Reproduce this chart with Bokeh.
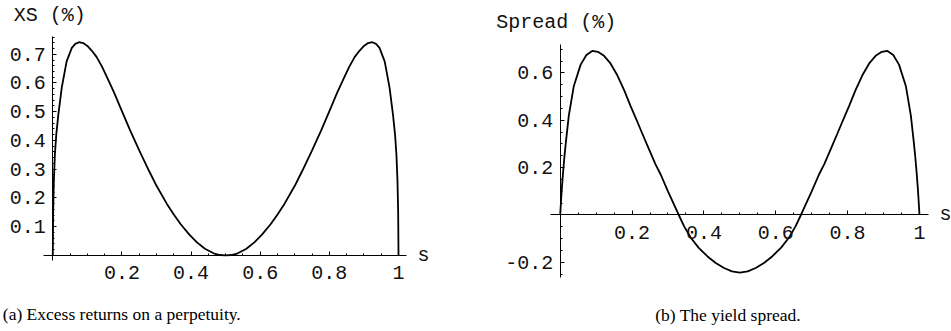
from bokeh.plotting import figure
from bokeh.layouts import row
from bokeh.models import Range1d, FixedTicker, Label
from bokeh.embed import file_html
from bokeh.resources import INLINE

# (a) Excess returns on a perpetuity: XS (%) against s
s_xs = [0.0, 0.001, 0.003, 0.006, 0.01, 0.016, 0.026, 0.04, 0.055, 0.065,
        0.076, 0.088, 0.10, 0.113, 0.127, 0.143, 0.16, 0.178, 0.195, 0.224,
        0.25, 0.28, 0.30, 0.33, 0.35, 0.37, 0.395, 0.417, 0.44, 0.465,
        0.483, 0.5, 0.517, 0.535, 0.56, 0.583, 0.605, 0.63, 0.65, 0.67,
        0.70, 0.72, 0.75, 0.776, 0.805, 0.822, 0.84, 0.857, 0.873, 0.887,
        0.90, 0.912, 0.924, 0.935, 0.945, 0.96, 0.974, 0.984, 0.99, 0.994,
        0.997, 0.999, 1.0]
xs_pct = [0.0, 0.15, 0.26, 0.35, 0.42, 0.49, 0.585, 0.675, 0.722, 0.736,
          0.742, 0.739, 0.729, 0.712, 0.69, 0.655, 0.612, 0.565, 0.516, 0.434,
          0.365, 0.29, 0.242, 0.179, 0.142, 0.108, 0.072, 0.045, 0.023, 0.007,
          0.001, 0.0, 0.001, 0.007, 0.023, 0.045, 0.072, 0.108, 0.142, 0.179,
          0.242, 0.29, 0.365, 0.434, 0.516, 0.565, 0.612, 0.655, 0.69, 0.712,
          0.729, 0.739, 0.742, 0.736, 0.722, 0.675, 0.585, 0.49, 0.42, 0.35,
          0.26, 0.15, 0.0]

# (b) The yield spread: Spread (%) against s
s_spread = [0.0, 0.004, 0.008, 0.012, 0.016, 0.024, 0.038, 0.057, 0.073, 0.089,
            0.105, 0.122, 0.14, 0.159, 0.178, 0.196, 0.213, 0.229, 0.247, 0.265,
            0.28, 0.30, 0.33, 0.345, 0.363, 0.385, 0.41, 0.433, 0.456, 0.478,
            0.5, 0.522, 0.544, 0.567, 0.59, 0.615, 0.637, 0.655, 0.67, 0.70,
            0.72, 0.735, 0.753, 0.771, 0.787, 0.804, 0.822, 0.841, 0.86, 0.878,
            0.895, 0.911, 0.927, 0.943, 0.962, 0.976, 0.984, 0.988, 0.992, 0.996,
            1.0]
spread_pct = [0.0, 0.10, 0.18, 0.25, 0.31, 0.42, 0.545, 0.635, 0.676, 0.693,
              0.689, 0.672, 0.64, 0.59, 0.527, 0.46, 0.40, 0.342, 0.278, 0.215,
              0.17, 0.10, 0.0, -0.048, -0.095, -0.138, -0.175, -0.203, -0.224, -0.238,
              -0.243, -0.238, -0.224, -0.203, -0.175, -0.138, -0.095, -0.048, 0.0, 0.10,
              0.17, 0.215, 0.278, 0.342, 0.40, 0.46, 0.527, 0.59, 0.64, 0.672,
              0.689, 0.693, 0.676, 0.635, 0.545, 0.42, 0.31, 0.25, 0.18, 0.10,
              0.0]

# Tick positions and their printed labels
s_ticks = [0.2, 0.4, 0.6, 0.8, 1.0]
s_tick_labels = ["0.2", "0.4", "0.6", "0.8", "1"]
xs_ticks = [0.1, 0.2, 0.3, 0.4, 0.5, 0.6, 0.7]
xs_tick_labels = ["0.1", "0.2", "0.3", "0.4", "0.5", "0.6", "0.7"]
spread_ticks = [-0.2, 0.2, 0.4, 0.6]
spread_tick_labels = ["-0.2", "0.2", "0.4", "0.6"]

MONO = "Liberation Mono"
SERIF = "Liberation Serif"


def minor_steps(lo, hi, step):
    n0 = int(round(lo / step))
    n1 = int(round(hi / step))
    return [round(i * step, 4) for i in range(n0, n1 + 1)]


def style_axis(ax, ticks, labels, minors, bounds, standoff):
    ax.ticker = FixedTicker(ticks=ticks, minor_ticks=minors)
    ax.major_label_overrides = {t: l for t, l in zip(ticks, labels)}
    ax.fixed_location = 0
    ax.bounds = bounds
    ax.axis_line_color = "black"
    ax.axis_line_width = 1
    ax.major_tick_line_color = "black"
    ax.minor_tick_line_color = "black"
    ax.major_tick_in = 4
    ax.major_tick_out = 0
    ax.minor_tick_in = 2
    ax.minor_tick_out = 0
    ax.major_label_text_font = MONO
    ax.major_label_text_font_size = "20px"
    ax.major_label_text_color = "#111111"
    ax.major_label_standoff = standoff


def panel(width, xr, yr, xbounds, ybounds, s, v, yticks, ylabels, yminors,
          ylabel, ylabel_off, s_off, caption, caption_off):
    # The frame fills the whole canvas; the axes sit inside it at the origin
    p = figure(width=width, height=331, output_backend="svg",
               toolbar_location=None, x_range=Range1d(*xr),
               y_range=Range1d(*yr), min_border=0, min_border_left=0,
               min_border_right=0, min_border_top=0, min_border_bottom=0)
    p.grid.visible = False
    p.outline_line_color = None
    p.background_fill_color = "white"
    p.border_fill_color = "white"

    style_axis(p.xaxis[0], s_ticks, s_tick_labels,
               minor_steps(0.05, 1.0, 0.05), xbounds, 11)
    style_axis(p.yaxis[0], yticks, ylabels, yminors, ybounds, 7)

    p.line(s, v, line_color="black", line_width=1.8)

    p.add_layout(Label(x=0, y=ybounds[1], text=ylabel, x_offset=ylabel_off[0],
                       y_offset=ylabel_off[1], text_font=MONO,
                       text_font_size="20px", text_align="left",
                       text_baseline="middle", text_color="#111111"))
    p.add_layout(Label(x=1.0, y=0, text="s", x_offset=s_off,
                       text_font=MONO, text_font_size="20px",
                       text_align="center", text_baseline="middle",
                       text_color="#111111"))
    p.add_layout(Label(x=0, y=0, text=caption, x_offset=caption_off[0],
                       y_offset=caption_off[1], text_font=SERIF,
                       text_font_size="17.5px", text_align="left",
                       text_baseline="middle", text_color="black"))
    return p


p_xs = panel(475, (-0.1513, 1.2227), (-0.2653, 0.8872),
             (-0.027, 1.023), (-0.018, 0.762),
             s_xs, xs_pct, xs_ticks, xs_tick_labels,
             minor_steps(0.02, 0.76, 0.02),
             "XS (%)", (-39, 21), 25,
             "(a) Excess returns on a perpetuity.", (-50, -59))

p_spread = panel(476, (-0.2357, 1.0891), (-0.4920, 0.9058),
                 (-0.027, 1.025), (-0.264, 0.72),
                 s_spread, spread_pct, spread_ticks, spread_tick_labels,
                 minor_steps(-0.25, 0.7, 0.05),
                 "Spread (%)", (-64, 22), 26,
                 "(b) The yield spread.", (95, -100))

layout = row(p_xs, p_spread)
open("out.html", "w").write(file_html(layout, INLINE))
